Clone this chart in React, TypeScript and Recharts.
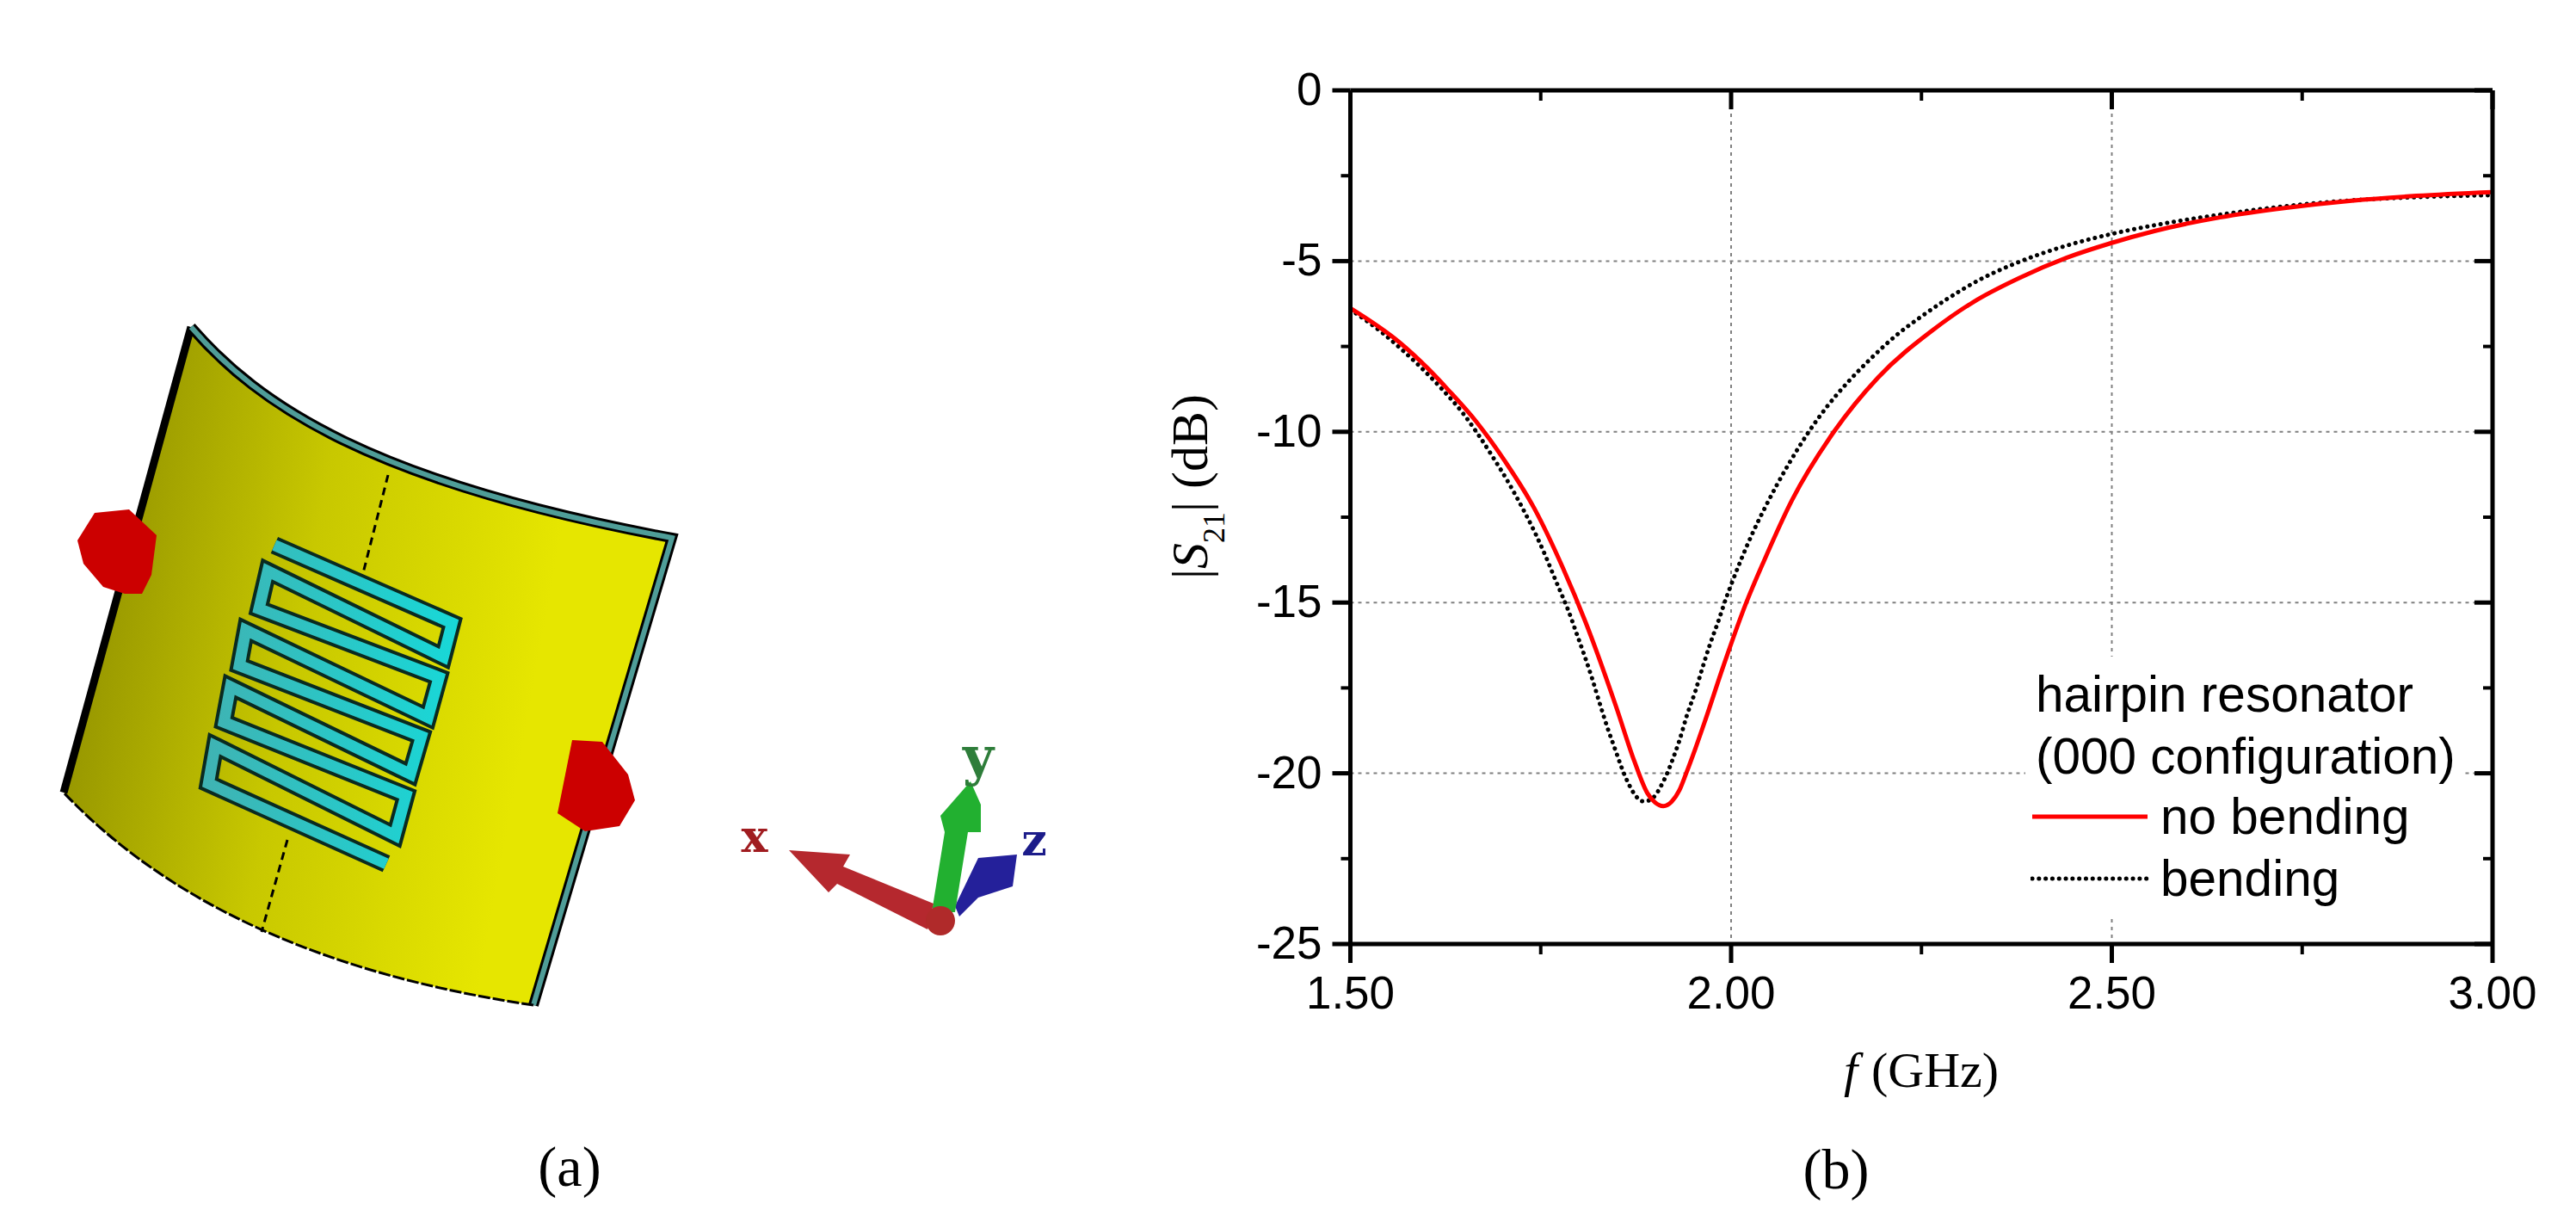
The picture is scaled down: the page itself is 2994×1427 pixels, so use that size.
import React from 'react';
import { LineChart, Line, XAxis, YAxis, CartesianGrid, Legend } from 'recharts';

// ---- data ----
const noBendingF = [1.5, 1.565, 1.602, 1.628, 1.666, 1.703, 1.741, 1.779, 1.809, 1.849, 1.873, 1.89, 1.9, 1.911, 1.922, 1.932, 1.941, 1.953, 1.966, 1.99, 2.02, 2.043, 2.08, 2.135, 2.193, 2.265, 2.318, 2.378, 2.441, 2.498, 2.556, 2.642, 2.729, 2.815, 2.9, 3.0];
const noBendingS21 = [-6.38, -7.39, -8.15, -8.76, -9.72, -10.86, -12.22, -13.98, -15.58, -18.05, -19.65, -20.58, -20.85, -20.96, -20.83, -20.5, -20.0, -19.28, -18.45, -16.85, -15.0, -13.79, -12.0, -10.0, -8.41, -7.02, -6.2, -5.5, -4.9, -4.48, -4.12, -3.72, -3.44, -3.23, -3.09, -2.98];
const bendingF = [1.5, 1.542, 1.567, 1.592, 1.617, 1.65, 1.667, 1.686, 1.708, 1.729, 1.743, 1.756, 1.769, 1.778, 1.786, 1.797, 1.808, 1.818, 1.827, 1.838, 1.849, 1.856, 1.865, 1.875, 1.884, 1.893, 1.902, 1.908, 1.917, 1.925, 1.932, 1.942, 1.953, 1.962, 1.972, 1.983, 1.993, 2.0, 2.013, 2.03, 2.045, 2.06, 2.076, 2.102, 2.125, 2.154, 2.186, 2.216, 2.25, 2.283, 2.326, 2.372, 2.424, 2.493, 2.556, 2.642, 2.729, 2.815, 2.9, 3.0];
const bendingS21 = [-6.42, -7.1, -7.58, -8.1, -8.67, -9.52, -10.05, -10.7, -11.5, -12.36, -12.98, -13.62, -14.32, -14.79, -15.22, -15.9, -16.59, -17.26, -17.92, -18.69, -19.38, -19.82, -20.29, -20.67, -20.82, -20.79, -20.6, -20.37, -19.95, -19.49, -19.05, -18.3, -17.6, -16.94, -16.24, -15.56, -14.9, -14.48, -13.75, -12.88, -12.2, -11.56, -10.93, -10.0, -9.29, -8.53, -7.8, -7.19, -6.62, -6.12, -5.55, -5.08, -4.66, -4.24, -3.95, -3.64, -3.39, -3.22, -3.13, -3.07];
const xTicks = [1.5, 1.75, 2.0, 2.25, 2.5, 2.75, 3.0];
const xLabelled = [1.5, 2.0, 2.5, 3.0];
const yTicks = [0, -2.5, -5, -7.5, -10, -12.5, -15, -17.5, -20, -22.5, -25];
const yLabelled = [0, -5, -10, -15, -20, -25];
const xGrid = [2.0, 2.5];
const yGrid = [-5, -10, -15, -20];

const noBendingData = noBendingF.map((f, i) => ({ f, s21: noBendingS21[i] }));
const bendingData = bendingF.map((f, i) => ({ f, s21: bendingS21[i] }));

const SANS = '"Liberation Sans", Arial, sans-serif';
const SERIF = '"Liberation Serif", "Times New Roman", serif';
const BLACK_DASH = '0.1 7.7';

const BottomTick = ({ x, y, payload }: any) => {
  const major = xLabelled.includes(payload.value);
  return (
    <g>
      <line x1={x} x2={x} y1={y} y2={y + (major ? 22 : 12)} stroke="#000" strokeWidth={major ? 5 : 4} />
      {major && (
        <text x={x} y={y + 75} textAnchor="middle" fontFamily={SANS} fontSize={53} fill="#000">
          {payload.value.toFixed(2)}
        </text>
      )}
    </g>
  );
};
const TopTick = ({ x, y, payload }: any) => {
  const major = xLabelled.includes(payload.value);
  return <line x1={x} x2={x} y1={y} y2={y + (major ? 22 : 12)} stroke="#000" strokeWidth={major ? 5 : 4} />;
};
const LeftTick = ({ x, y, payload }: any) => {
  const major = yLabelled.includes(payload.value);
  return (
    <g>
      <line x1={x} x2={x - (major ? 21 : 11)} y1={y} y2={y} stroke="#000" strokeWidth={major ? 5 : 4} />
      {major && (
        <text x={x - 33} y={y - 2} dy="0.36em" textAnchor="end" fontFamily={SANS} fontSize={53} fill="#000">
          {String(payload.value)}
        </text>
      )}
    </g>
  );
};
const RightTick = ({ x, y, payload }: any) => {
  const major = yLabelled.includes(payload.value);
  return <line x1={x} x2={x - (major ? 21 : 11)} y1={y} y2={y} stroke="#000" strokeWidth={major ? 5 : 4} />;
};

const XTitle = () => (
  <text y={1263} fontFamily={SERIF} fontSize={58} fill="#000">
    <tspan x={2143} fontStyle="italic">f</tspan>
    <tspan x={2175}>(GHz)</tspan>
  </text>
);
const YTitle = () => (
  <text transform="translate(1403 673) rotate(-90)" fontFamily={SERIF} fontSize={60} fill="#000">
    |<tspan fontStyle="italic">S</tspan>
    <tspan fontSize={36} dy={20}>21</tspan>
    <tspan dy={-20}>| (dB)</tspan>
  </text>
);

const LegendBox = ({ payload }: any) => {
  const header = ['hairpin resonator', '(000 configuration)'];
  const items = (payload || []).slice().reverse();
  const textStyle = (top: number, left: number): React.CSSProperties => ({
    position: 'absolute', left, top, fontFamily: SANS, fontSize: 58.5, lineHeight: '72px', color: '#000', whiteSpace: 'nowrap',
  });
  return (
    <div style={{ position: 'absolute', left: 0, top: 0, width: 509, height: 305, background: '#fff' }}>
      {header.map((t, i) => (
        <div key={t} style={textStyle(i * 72 + 8, 12)}>{t}</div>
      ))}
      {items.map((it: any, i: number) => (
        <React.Fragment key={it.value}>
          <svg style={{ position: 'absolute', left: 6, top: 176 + i * 72, width: 140, height: 20 }}>
            <line x1={2} x2={136} y1={10} y2={10} stroke={it.color} strokeWidth={5}
              strokeLinecap={it.color === '#ff0000' ? 'butt' : 'round'}
              strokeDasharray={it.color === '#ff0000' ? undefined : BLACK_DASH} />
          </svg>
          <div style={textStyle(150 + i * 72, 157)}>{it.value}</div>
        </React.Fragment>
      ))}
    </div>
  );
};

// ---- panel (a): the 3D model view, which is a picture and not data ----
const meander = '625,535 1030,700 1010,772 610,590 590,670 1000,815 975,900 560,715 545,790 960,940 935,1020 525,835 510,910 925,1065 900,1150 490,960 475,1040 880,1210';
const ZX = 1 / 1.96;
const ZY = 1 / 1.823;
const toFull = (pts: string) =>
  pts.split(' ').map((p) => {
    const [a, b] = p.split(',').map(Number);
    return `${(a * ZX).toFixed(1)},${(340 + b * ZY).toFixed(1)}`;
  }).join(' ');
const TOP_RIGHT = 'M222,380 C300,470 430,560 781,625 L620,1168';
const BOTTOM = 'M620,1168 C430,1140 220,1075 74,921';

const ModelView = () => (
  <svg width={1300} height={1427} style={{ position: 'absolute', left: 0, top: 0 }}>
    <defs>
      <linearGradient id="sheet" gradientUnits="userSpaceOnUse" x1="70" y1="700" x2="620" y2="800">
        <stop offset="0" stopColor="#8f8f00" />
        <stop offset="0.5" stopColor="#c8c800" />
        <stop offset="1" stopColor="#e6e600" />
      </linearGradient>
      <linearGradient id="cyan" gradientUnits="userSpaceOnUse" x1="240" y1="800" x2="530" y2="800">
        <stop offset="0" stopColor="#3fb3b3" />
        <stop offset="1" stopColor="#18d8d8" />
      </linearGradient>
    </defs>
    <path d="M222,380 C300,470 430,560 781,625 L620,1168 C430,1140 220,1075 74,921 Z" fill="url(#sheet)" />
    <path d="M74,921 L222,380" stroke="#000" strokeWidth={9} fill="none" />
    <path d={TOP_RIGHT} stroke="#000" strokeWidth={12} fill="none" />
    <path d={TOP_RIGHT} stroke="#4f9d98" strokeWidth={6} fill="none" />
    <path d={BOTTOM} stroke="#000" strokeWidth={3} strokeDasharray="14 3" fill="none" />
    <line x1={451} y1={552} x2={421} y2={670} stroke="#000" strokeWidth={3} strokeDasharray="9 6" />
    <line x1={334} y1={976} x2={304} y2={1083} stroke="#000" strokeWidth={3} strokeDasharray="9 6" />
    <polyline points={toFull(meander)} fill="none" stroke="#0a2a20" strokeWidth={21} strokeLinejoin="miter" />
    <polyline points={toFull(meander)} fill="none" stroke="url(#cyan)" strokeWidth={13} strokeLinejoin="miter" />
    <polygon points="110,596 150,592 182,622 176,668 165,690 145,690 120,682 97,655 90,628" fill="#cc0000" />
    <polygon points="665,860 700,862 730,900 738,930 720,960 680,966 648,945" fill="#cc0000" />
    <polygon points="1110,1053 1137,997 1182,993 1177,1030 1137,1043 1115,1065" fill="#24209a" />
    <polygon points="1083,1060 1098,967 1093,948 1128,908 1140,935 1140,967 1125,967 1110,1060" fill="#22b030" />
    <polygon points="973,1027 963,1037 917,988 988,993 980,1007 1085,1050 1078,1080" fill="#b5282e" />
    <circle cx={1093} cy={1070} r={17} fill="#b02a2a" />
    <text x={877} y={990} textAnchor="middle" fontFamily='"DejaVu Serif"' fontWeight="bold" fontSize={52} fill="#a01c20">x</text>
    <text x={1137} y={900} textAnchor="middle" fontFamily='"DejaVu Serif"' fontWeight="bold" fontSize={62} fill="#2e7d3a">y</text>
    <text x={1202} y={994} textAnchor="middle" fontFamily='"DejaVu Serif"' fontWeight="bold" fontSize={52} fill="#1c1c8a">z</text>
    <text x={662} y={1378} textAnchor="middle" fontFamily={SERIF} fontSize={66} fill="#000">(a)</text>
  </svg>
);

export default function App() {
  return (
    <div style={{ position: 'absolute', left: 0, top: 0, width: 2994, height: 1427, overflow: 'hidden', background: '#fff' }}>
      <ModelView />
      <div style={{ position: 'absolute', left: 0, top: 0 }}>
        <LineChart width={2994} height={1427} margin={{ top: 104, left: 1568.5, right: 96, bottom: 329 }} style={{ background: 'transparent' }}>
          <CartesianGrid xAxisId="b" yAxisId="l" horizontalValues={yGrid} verticalValues={xGrid} stroke="#808080" strokeWidth={2} strokeDasharray="4 5" />
          <XAxis xAxisId="b" dataKey="f" type="number" domain={[1.5, 3]} ticks={xTicks} interval={0} height={1} tickSize={0} tickMargin={0} tickLine={false}
            axisLine={{ stroke: '#000', strokeWidth: 5 }} tick={BottomTick} allowDataOverflow label={{ content: XTitle }} />
          <XAxis xAxisId="t" orientation="top" dataKey="f" type="number" domain={[1.5, 3]} ticks={xTicks} interval={0} height={1} tickSize={0} tickMargin={0} tickLine={false}
            axisLine={{ stroke: '#000', strokeWidth: 5 }} tick={TopTick} allowDataOverflow />
          <YAxis yAxisId="l" type="number" domain={[-25, 0]} ticks={yTicks} interval={0} width={1} tickSize={0} tickMargin={0} tickLine={false}
            axisLine={{ stroke: '#000', strokeWidth: 5 }} tick={LeftTick} allowDataOverflow label={{ content: YTitle }} />
          <YAxis yAxisId="r" orientation="right" type="number" domain={[-25, 0]} ticks={yTicks} interval={0} width={1} tickSize={0} tickMargin={0} tickLine={false}
            axisLine={{ stroke: '#000', strokeWidth: 5 }} tick={RightTick} allowDataOverflow />
          <Line xAxisId="b" yAxisId="l" data={bendingData} dataKey="s21" name="bending" type="monotone" stroke="#000000" strokeWidth={5}
            strokeLinecap="round" strokeDasharray={BLACK_DASH} dot={false} isAnimationActive={false} />
          <Line xAxisId="b" yAxisId="l" data={noBendingData} dataKey="s21" name="no bending" type="monotone" stroke="#ff0000" strokeWidth={5}
            dot={false} isAnimationActive={false} />
          <Legend content={LegendBox} wrapperStyle={{ left: 2354, top: 763, width: 0, height: 0, right: 'auto', bottom: 'auto' }} />
        </LineChart>
      </div>
      <div style={{ position: 'absolute', left: 2134, top: 1322, transform: 'translateX(-50%)', fontFamily: SERIF, fontSize: 66, lineHeight: '74px' }}>(b)</div>
    </div>
  );
}
